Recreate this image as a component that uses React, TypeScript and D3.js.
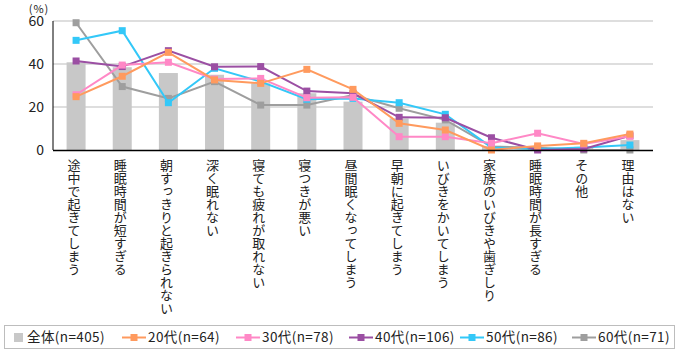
import * as d3 from 'd3';

const categories = [
  '途中で起きてしまう',
  '睡眠時間が短すぎる',
  '朝すっきりと起きられない',
  '深く眠れない',
  '寝ても疲れが取れない',
  '寝つきが悪い',
  '昼間眠くなってしまう',
  '早朝に起きてしまう',
  'いびきをかいてしまう',
  '家族のいびきや歯ぎしり',
  '睡眠時間が長すぎる',
  'その他',
  '理由はない',
];

const totalValues = [40.8, 38.5, 35.8, 35, 31, 26.4, 22.5, 14.7, 12.7, 1.9, 1.2, 1.5, 4.6];
const age20 = [24.8, 34.3, 45.4, 32.6, 31, 37.5, 28.2, 12.4, 9.3, 0, 1.9, 3.1, 7.4];
const age30 = [25.7, 39.5, 40.8, 33, 33.3, 24.3, 24.5, 6.2, 6.2, 3.1, 7.8, 2.8, 6.4];
const age40 = [41.4, 38.8, 46.2, 38.7, 38.8, 27.4, 26.4, 15.2, 15.0, 5.7, 0, 0.5, 6.6];
const age50 = [51, 55.5, 22, 38, 31.8, 23.6, 24, 22, 16.6, 1.2, 0.5, 1.2, 2.3];
const age60 = [59.2, 29.5, 24, 31.8, 20.9, 20.9, 25.6, 19.4, 14, 1.6, 1, 0, 0];

const yTicks = [0, 20, 40, 60];

const series = [
  { name: '20代(n=64)', values: age20, color: '#ff9a5e' },
  { name: '30代(n=78)', values: age30, color: '#ff88c6' },
  { name: '40代(n=106)', values: age40, color: '#9b4fa3' },
  { name: '50代(n=86)', values: age50, color: '#33c8f8' },
  { name: '60代(n=71)', values: age60, color: '#9e9e9e' },
];
const totalLabel = '全体(n=405)';
const barColor = '#c8c8c8';

const W = 680;
const H = 350;
const font = '"Noto Sans CJK JP", "Noto Sans", sans-serif';

export default function App() {
  const margin = { left: 53, right: 27, top: 21, bottom: 200 };
  const x = d3.scaleBand<string>().domain(categories).range([margin.left, W - margin.right]).padding(0);
  const y = d3.scaleLinear().domain([0, 60]).range([H - margin.bottom, margin.top]);
  const cx = (i: number) => (x(categories[i]) ?? 0) + x.bandwidth() / 2;
  const barW = 19;
  const mk = 7;

  const line = d3.line<number>()
    .x((_, i) => cx(i))
    .y(d => y(d));

  // legend item starts
  const legendX = [8, 122, 236, 349, 460, 572];

  return (
    <div style={{ position: 'absolute', left: 0, top: 0 }}>
      <svg width={W} height={H} style={{ display: 'block', fontFamily: font }}>
        <rect width={W} height={H} fill="#fff" />

        {/* grid */}
        {yTicks.filter(t => t > 0).map(t => (
          <line key={t} x1={margin.left} x2={W - margin.right} y1={y(t)} y2={y(t)} stroke="#bdbdbd" strokeWidth={1} />
        ))}

        {/* bars */}
        {totalValues.map((v, i) => (
          <rect key={i} x={cx(i) - barW / 2} y={y(v)} width={barW} height={y(0) - y(v)} fill={barColor} />
        ))}

        {/* lines, drawn so 20代 ends on top */}
        {[...series].reverse().map(s => (
          <g key={s.name}>
            <path d={line(s.values) ?? ''} fill="none" stroke={s.color} strokeWidth={2} />
            {s.values.map((v, i) => (
              <rect key={i} x={cx(i) - mk / 2} y={y(v) - mk / 2} width={mk} height={mk} fill={s.color} />
            ))}
          </g>
        ))}

        {/* axes */}
        <line x1={margin.left} x2={margin.left} y1={y(60)} y2={y(0)} stroke="#000" strokeWidth={1} />
        <line x1={margin.left} x2={W - margin.right} y1={y(0) + 0.5} y2={y(0) + 0.5} stroke="#000" strokeWidth={1.5} />

        {yTicks.map(t => (
          <text key={t} x={44} y={y(t)} dy="0.35em" textAnchor="end" fontSize={14} fill="#222">{t}</text>
        ))}
        <text x={39} y={12.5} textAnchor="middle" fontSize={11} fill="#222" letterSpacing={1}>(%)</text>

        {/* category labels */}
        {categories.map((c, i) => (
          <text key={c} x={cx(i) - 2} y={159} fontSize={13} fill="#222" style={{ writingMode: 'vertical-rl' }}>{c}</text>
        ))}

        {/* legend */}
        <rect x={4.5} y={325.5} width={670} height={23} fill="#fff" stroke="#bdbdbd" />
        <rect x={legendX[0] + 6} y={333} width={9} height={9} fill={barColor} />
        <text x={legendX[0] + 19} y={337.5} dy="0.35em" fontSize={13.5} fill="#222" letterSpacing={0.4}>{totalLabel}</text>
        {series.map((s, k) => (
          <g key={s.name}>
            <line x1={legendX[k + 1]} x2={legendX[k + 1] + 24} y1={337.5} y2={337.5} stroke={s.color} strokeWidth={2} />
            <rect x={legendX[k + 1] + 12 - mk / 2} y={337.5 - mk / 2} width={mk} height={mk} fill={s.color} />
            <text x={legendX[k + 1] + 26} y={337.5} dy="0.35em" fontSize={13.5} fill="#222" letterSpacing={0.4}>{s.name}</text>
          </g>
        ))}
      </svg>
    </div>
  );
}
